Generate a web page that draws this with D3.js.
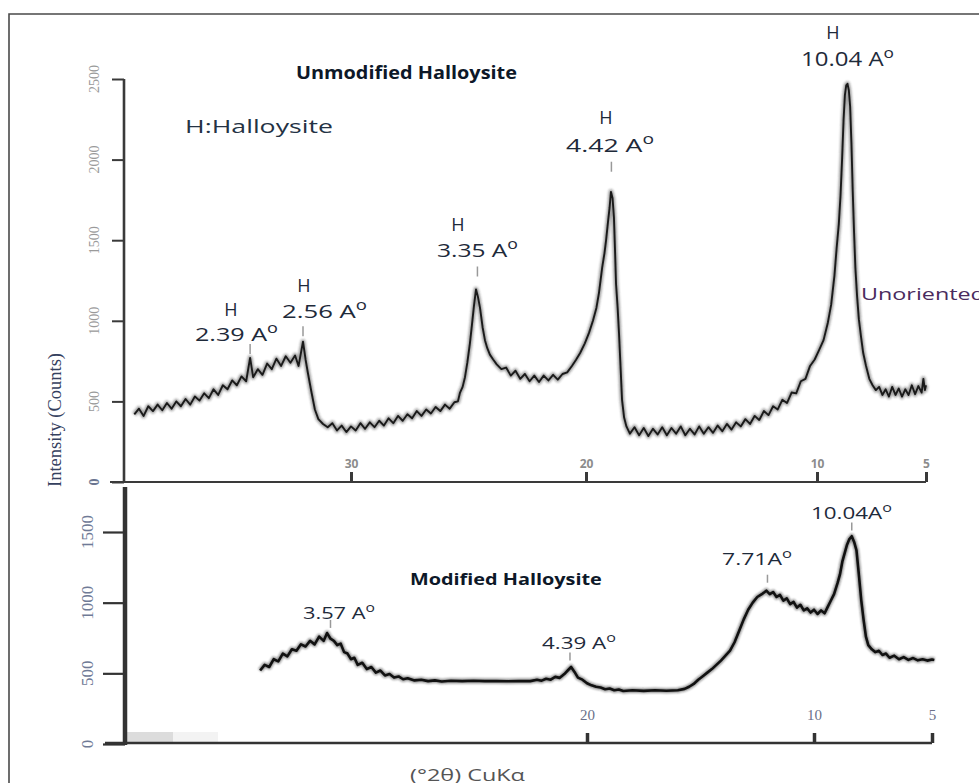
<!DOCTYPE html>
<html><head><meta charset="utf-8">
<script src="https://cdn.jsdelivr.net/npm/d3@7"></script>
<style>body{margin:0;background:#fff} svg{display:block}</style>
</head><body>
<script>
// ---------- DATA (2θ in degrees, intensity in counts) ----------
const unmodified = [
[39.3,420],[39.1,455],[38.9,410],[38.7,470],[38.5,440],[38.3,480],[38.1,445],[37.9,490],[37.7,455],[37.5,500],
[37.3,470],[37.1,515],[36.9,480],[36.7,530],[36.5,505],[36.3,550],[36.1,520],[35.9,575],[35.7,540],[35.5,600],
[35.3,575],[35.1,630],[34.9,600],[34.7,655],[34.5,625],[34.33,770],[34.2,650],[34.0,700],[33.8,665],[33.6,735],
[33.4,700],[33.2,765],[33.0,720],[32.8,780],[32.6,740],[32.4,785],[32.25,720],[32.06,870],[31.95,760],[31.85,676],
[31.7,560],[31.55,450],[31.4,390],[31.2,360],[31.0,340],[30.8,365],[30.6,320],[30.4,350],[30.2,310],[30.0,345],
[29.8,320],[29.6,365],[29.4,330],[29.2,370],[29.0,340],[28.8,380],[28.6,350],[28.4,395],[28.2,365],[28.0,410],
[27.8,380],[27.6,420],[27.4,395],[27.2,440],[27.0,410],[26.8,450],[26.6,425],[26.4,465],[26.2,440],[26.0,480],
[25.8,455],[25.6,495],[25.45,500],[25.36,555],[25.25,590],[25.15,650],[25.05,740],[24.94,860],[24.85,980],[24.77,1090],
[24.68,1195],[24.6,1150],[24.51,1080],[24.4,960],[24.3,880],[24.2,830],[24.09,790],[23.95,760],[23.8,730],[23.6,700],
[23.4,710],[23.2,660],[23.0,690],[22.8,640],[22.6,670],[22.4,625],[22.2,660],[22.0,620],[21.8,660],[21.6,630],
[21.4,665],[21.2,635],[21.0,670],[20.8,680],[20.6,720],[20.43,757],[20.25,800],[20.05,860],[19.87,925],[19.7,1000],
[19.55,1080],[19.44,1172],[19.3,1330],[19.2,1420],[19.13,1500],[19.05,1610],[18.98,1700],[18.92,1800],[18.85,1760],[18.79,1640],
[18.74,1420],[18.70,1230],[18.63,1080],[18.57,920],[18.5,700],[18.44,510],[18.35,400],[18.25,345],[18.1,300],[17.9,340],
[17.7,290],[17.5,335],[17.3,285],[17.1,330],[16.9,295],[16.7,340],[16.5,290],[16.3,335],[16.1,300],[15.9,345],
[15.7,290],[15.5,330],[15.3,295],[15.1,345],[14.9,300],[14.7,340],[14.5,305],[14.3,350],[14.1,315],[13.9,360],
[13.7,325],[13.5,370],[13.3,345],[13.1,390],[12.9,360],[12.7,410],[12.5,385],[12.3,440],[12.1,415],[11.9,470],
[11.7,450],[11.5,510],[11.3,490],[11.1,555],[10.9,550],[10.7,625],[10.5,640],[10.3,720],[10.1,760],[9.9,820],
[9.7,880],[9.5,990],[9.35,1100],[9.2,1280],[9.1,1450],[9.0,1600],[8.92,1780],[8.85,2000],[8.78,2250],[8.72,2400],
[8.66,2460],[8.6,2470],[8.54,2430],[8.48,2330],[8.42,2100],[8.36,1800],[8.3,1550],[8.24,1330],[8.16,1150],[8.08,1010],
[7.98,900],[7.88,800],[7.75,720],[7.6,640],[7.45,600],[7.3,570],[7.15,590],[7.0,540],[6.85,575],[6.7,530],
[6.55,590],[6.4,540],[6.25,580],[6.1,530],[5.95,575],[5.8,540],[5.65,600],[5.5,545],[5.35,595],[5.2,555],
[5.12,640],[5.05,570],[5.0,600]
];
const modified = [
[34.4,520],[34.2,560],[34.0,545],[33.8,600],[33.6,585],[33.4,640],[33.2,620],[33.0,670],[32.8,660],[32.6,705],
[32.4,690],[32.2,730],[32.0,705],[31.8,760],[31.6,730],[31.45,785],[31.3,745],[31.15,730],[31.0,700],[30.85,710],
[30.7,650],[30.55,640],[30.4,600],[30.25,610],[30.1,560],[29.9,575],[29.7,530],[29.5,545],[29.3,505],[29.1,520],
[28.9,485],[28.7,495],[28.5,470],[28.3,478],[28.1,458],[27.9,465],[27.6,450],[27.3,455],[27.0,445],[26.7,450],
[26.4,442],[26.0,448],[25.5,445],[25.0,447],[24.5,445],[24.0,446],[23.5,444],[23.0,446],[22.5,445],[22.2,455],
[22.0,448],[21.8,462],[21.6,455],[21.4,475],[21.2,468],[21.0,495],[20.85,520],[20.7,545],[20.55,510],[20.4,470],
[20.2,455],[20.0,430],[19.8,415],[19.6,405],[19.4,400],[19.2,388],[19.0,393],[18.8,380],[18.6,386],[18.4,375],
[18.0,380],[17.5,376],[17.0,380],[16.5,377],[16.0,380],[15.7,390],[15.5,405],[15.3,425],[15.1,455],[14.9,480],
[14.7,505],[14.5,530],[14.3,560],[14.1,590],[13.9,625],[13.7,660],[13.5,720],[13.3,800],[13.1,880],[12.9,950],
[12.7,1000],[12.5,1040],[12.3,1060],[12.1,1085],[11.95,1060],[11.8,1075],[11.65,1040],[11.5,1055],[11.35,1015],[11.2,1030],
[11.05,990],[10.9,1005],[10.75,965],[10.6,985],[10.45,945],[10.3,960],[10.15,930],[10.0,950],[9.85,920],[9.7,945],
[9.55,925],[9.45,960],[9.3,1010],[9.15,1060],[9.0,1140],[8.9,1200],[8.8,1290],[8.7,1350],[8.6,1410],[8.5,1450],
[8.4,1470],[8.3,1430],[8.2,1370],[8.1,1200],[8.0,1020],[7.9,880],[7.8,760],[7.7,700],[7.55,670],[7.4,650],
[7.25,660],[7.1,630],[6.95,640],[6.8,610],[6.6,625],[6.4,600],[6.2,615],[6.0,595],[5.8,608],[5.6,592],
[5.4,600],[5.2,590],[5.0,598],[4.9,595]
];
const topXTicks = [30, 20, 10, 5];
const topYTicks = [0, 500, 1000, 1500, 2000, 2500];
const botXTicks = [20, 10, 5];
const botYTicks = [0, 500, 1000, 1500];
// peak annotations: d-spacing label, 2θ position, intensity at marker
const topPeaks = [
  {d:"2.39", sp:" ", theta:34.33, c:770},
  {d:"2.56", sp:" ", theta:32.06, c:880},
  {d:"3.35", sp:" ", theta:24.62, c:1250},
  {d:"4.42", sp:"  ", theta:18.90, c:1900}
];
const botPeaks = [
  {d:"3.57", sp:" ", theta:31.3, c:800},
  {d:"4.39", sp:" ", theta:20.75, c:570},
  {d:"7.71", sp:"", theta:12.05, c:1120},
  {d:"10.04", sp:"", theta:8.4, c:1490}
];

// ---------- DRAW ----------
const W = 979, H = 783;
const svg = d3.select("body").append("svg").attr("width", W).attr("height", H);
const sans = "'Open Sans', 'DejaVu Sans', sans-serif";
const serif = "'Liberation Serif', 'DejaVu Serif', serif";

const defs = svg.append("defs");
defs.append("filter").attr("id", "soft").attr("x", "-5%").attr("y", "-5%").attr("width", "110%").attr("height", "110%")
  .append("feGaussianBlur").attr("stdDeviation", 0.9);

function addLabel(parent, o) {
  const t = parent.append("text")
    .attr("font-family", o.family || sans)
    .attr("font-size", o.size)
    .attr("font-weight", o.weight || "normal")
    .attr("fill", o.fill || "#1e2a3a")
    .attr("text-anchor", o.anchor || "start");
  o.parts.forEach(p => {
    if (p.sup) t.append("tspan").attr("font-size", o.size * 0.72).attr("dy", -o.size * 0.42).text(p.t);
    else t.append("tspan").text(p.t);
  });
  let sx = 1;
  if (o.w) sx = o.w / t.node().getComputedTextLength();
  t.attr("transform", `translate(${o.x},${o.y}) scale(${sx},1)`);
  return t;
}

// frame
svg.append("path").attr("d", "M9,783V14H979").attr("fill", "none")
  .attr("stroke", "#4a4a4a").attr("stroke-width", 1.6);

// ===== TOP PANEL =====
const xTop = d3.scaleLinear().domain([40, 30, 20, 10, 5]).range([118, 351, 586, 817, 926]);
const yTop = d3.scaleLinear().domain([0, 2500]).range([482, 79]);
const gT = svg.append("g");

// y axis
gT.append("line").attr("x1", 124).attr("x2", 124).attr("y1", yTop(2500)).attr("y2", yTop(0) + 1)
  .attr("stroke", "#3a3a3a").attr("stroke-width", 2.6);
const yAxT = gT.append("g").attr("transform", "translate(124,0)")
  .call(d3.axisLeft(yTop).tickValues(topYTicks).tickSize(12).tickFormat(""));
yAxT.select(".domain").remove();
yAxT.selectAll(".tick line").attr("stroke", "#3a3a3a").attr("stroke-width", 2);
topYTicks.forEach(v => {
  gT.append("text").attr("transform", `translate(94,${yTop(v)}) rotate(-90)`)
    .attr("text-anchor", "middle").attr("dominant-baseline", "central")
    .attr("font-family", serif).attr("font-size", 14).attr("fill", v === 0 ? "#6a7590" : "#9a9a9a")
    .attr("font-weight", v === 0 ? "bold" : "normal")
    .text(v);
});
gT.append("text").attr("transform", "translate(55,420) rotate(-90)")
  .attr("text-anchor", "middle").attr("dominant-baseline", "central")
  .attr("font-family", serif).attr("font-size", 18).attr("fill", "#34405e")
  .attr("textLength", 134).attr("lengthAdjust", "spacingAndGlyphs")
  .text("Intensity (Counts)");

// x axis
gT.append("line").attr("x1", 110).attr("x2", 926).attr("y1", 482).attr("y2", 482)
  .attr("stroke", "#3a3a3a").attr("stroke-width", 2.2);
const xAxT = gT.append("g").attr("transform", "translate(0,482)")
  .call(d3.axisTop(xTop).tickValues(topXTicks).tickSize(10).tickPadding(4).tickFormat(d3.format("d")));
xAxT.select(".domain").remove();
xAxT.selectAll(".tick line").attr("stroke", "#3a3a3a").attr("stroke-width", 3);
xAxT.selectAll(".tick text").attr("font-family", sans).attr("font-size", 12).attr("font-weight", "bold")
  .attr("fill", "#8c8c8c");

// trace
const lineT = d3.line().x(d => xTop(d[0])).y(d => yTop(d[1]));
gT.append("path").datum(unmodified).attr("d", lineT).attr("fill", "none")
  .attr("stroke", "#333").attr("stroke-width", 5).attr("stroke-opacity", 0.45)
  .attr("stroke-linejoin", "round").attr("filter", "url(#soft)");
gT.append("path").datum(unmodified).attr("d", lineT).attr("fill", "none")
  .attr("stroke", "#1a1a1a").attr("stroke-width", 1.9).attr("stroke-linejoin", "round");

// peak markers
topPeaks.forEach(p => {
  gT.append("line").attr("x1", xTop(p.theta)).attr("x2", xTop(p.theta))
    .attr("y1", yTop(p.c) - 4).attr("y2", yTop(p.c) - 14)
    .attr("stroke", "#999").attr("stroke-width", 1.5);
});

// texts
addLabel(gT, {x: 296, y: 79, w: 221, size: 17, weight: "bold", fill: "#0d1828",
  parts: [{t: "Unmodified Halloysite"}]});
addLabel(gT, {x: 185, y: 133, w: 148, size: 18, fill: "#243244", parts: [{t: "H:Halloysite"}]});

const topLabelPos = [
  {hx: 231, hy: 316, x: 195, y: 341, w: 83},
  {hx: 304, hy: 292, x: 282, y: 318, w: 85},
  {hx: 458, hy: 231, x: 437, y: 257, w: 81},
  {hx: 606, hy: 124, x: 566, y: 152, w: 88}
];
topPeaks.forEach((p, i) => {
  const L = topLabelPos[i];
  addLabel(gT, {x: L.hx, y: L.hy, size: 18, anchor: "middle", parts: [{t: "H"}]});
  addLabel(gT, {x: L.x, y: L.y, w: L.w, size: 19, parts: [{t: p.d + p.sp + "A"}, {t: "o", sup: true}]});
});
addLabel(gT, {x: 833, y: 39, size: 18, anchor: "middle", parts: [{t: "H"}]});
addLabel(gT, {x: 801, y: 66, w: 93, size: 20, parts: [{t: "10.04 A"}, {t: "o", sup: true}]});
addLabel(gT, {x: 861, y: 300, w: 124, size: 16, fill: "#4a2b5e", parts: [{t: "Unoriented"}]});

// ===== BOTTOM PANEL =====
const xBot = d3.scaleLinear().domain([40, 20, 10, 5]).range([133, 587, 814, 932]);
const yBot = d3.scaleLinear().domain([0, 1500]).range([744, 532]);
const gB = svg.append("g");

gB.append("rect").attr("x", 127).attr("y", 732).attr("width", 46).attr("height", 10).attr("fill", "#dcdcdc");
gB.append("rect").attr("x", 173).attr("y", 732).attr("width", 45).attr("height", 10).attr("fill", "#f3f3f3");

gB.append("line").attr("x1", 125).attr("x2", 125).attr("y1", 487).attr("y2", 745)
  .attr("stroke", "#333").attr("stroke-width", 4.5);
const yAxB = gB.append("g").attr("transform", "translate(125,0)")
  .call(d3.axisLeft(yBot).tickValues(botYTicks).tickSize(22).tickFormat(""));
yAxB.select(".domain").remove();
yAxB.selectAll(".tick line").attr("stroke", "#333").attr("stroke-width", 2.2);
botYTicks.forEach(v => {
  gB.append("text").attr("transform", `translate(87,${yBot(v)}) rotate(-90)`)
    .attr("text-anchor", "middle").attr("dominant-baseline", "central")
    .attr("font-family", serif).attr("font-size", 17).attr("fill", "#6f7a96")
    .text(v);
});

gB.append("line").attr("x1", 105).attr("x2", 932).attr("y1", 743).attr("y2", 743)
  .attr("stroke", "#333").attr("stroke-width", 2.6);
const xAxB = gB.append("g").attr("transform", "translate(0,743)")
  .call(d3.axisTop(xBot).tickValues(botXTicks).tickSize(10).tickPadding(13).tickFormat(d3.format("d")));
xAxB.select(".domain").remove();
xAxB.selectAll(".tick line").attr("stroke", "#333").attr("stroke-width", 3.5);
xAxB.selectAll(".tick text").attr("font-family", serif).attr("font-size", 15)
  .attr("fill", "#6a7089");

const lineB = d3.line().x(d => xBot(d[0])).y(d => yBot(d[1]));
gB.append("path").datum(modified).attr("d", lineB).attr("fill", "none")
  .attr("stroke", "#222").attr("stroke-width", 5).attr("stroke-opacity", 0.5)
  .attr("stroke-linejoin", "round").attr("filter", "url(#soft)");
gB.append("path").datum(modified).attr("d", lineB).attr("fill", "none")
  .attr("stroke", "#111").attr("stroke-width", 2.6).attr("stroke-linejoin", "round");

botPeaks.forEach(p => {
  gB.append("line").attr("x1", xBot(p.theta)).attr("x2", xBot(p.theta))
    .attr("y1", yBot(p.c) - 3).attr("y2", yBot(p.c) - 11)
    .attr("stroke", "#999").attr("stroke-width", 1.5);
});

addLabel(gB, {x: 410, y: 585, w: 192, size: 16, weight: "bold", fill: "#0d1828",
  parts: [{t: "Modified Halloysite"}]});
const botLabelPos = [
  {x: 303, y: 619, w: 72},
  {x: 542, y: 649, w: 74},
  {x: 722, y: 565, w: 70},
  {x: 811, y: 519, w: 81}
];
botPeaks.forEach((p, i) => {
  const L = botLabelPos[i];
  addLabel(gB, {x: L.x, y: L.y, w: L.w, size: 17, parts: [{t: p.d + p.sp + "A"}, {t: "o", sup: true}]});
});
addLabel(gB, {x: 410, y: 781, w: 115, size: 16, fill: "#555", parts: [{t: "(°2θ) CuKα"}]});
</script>
</body></html>
